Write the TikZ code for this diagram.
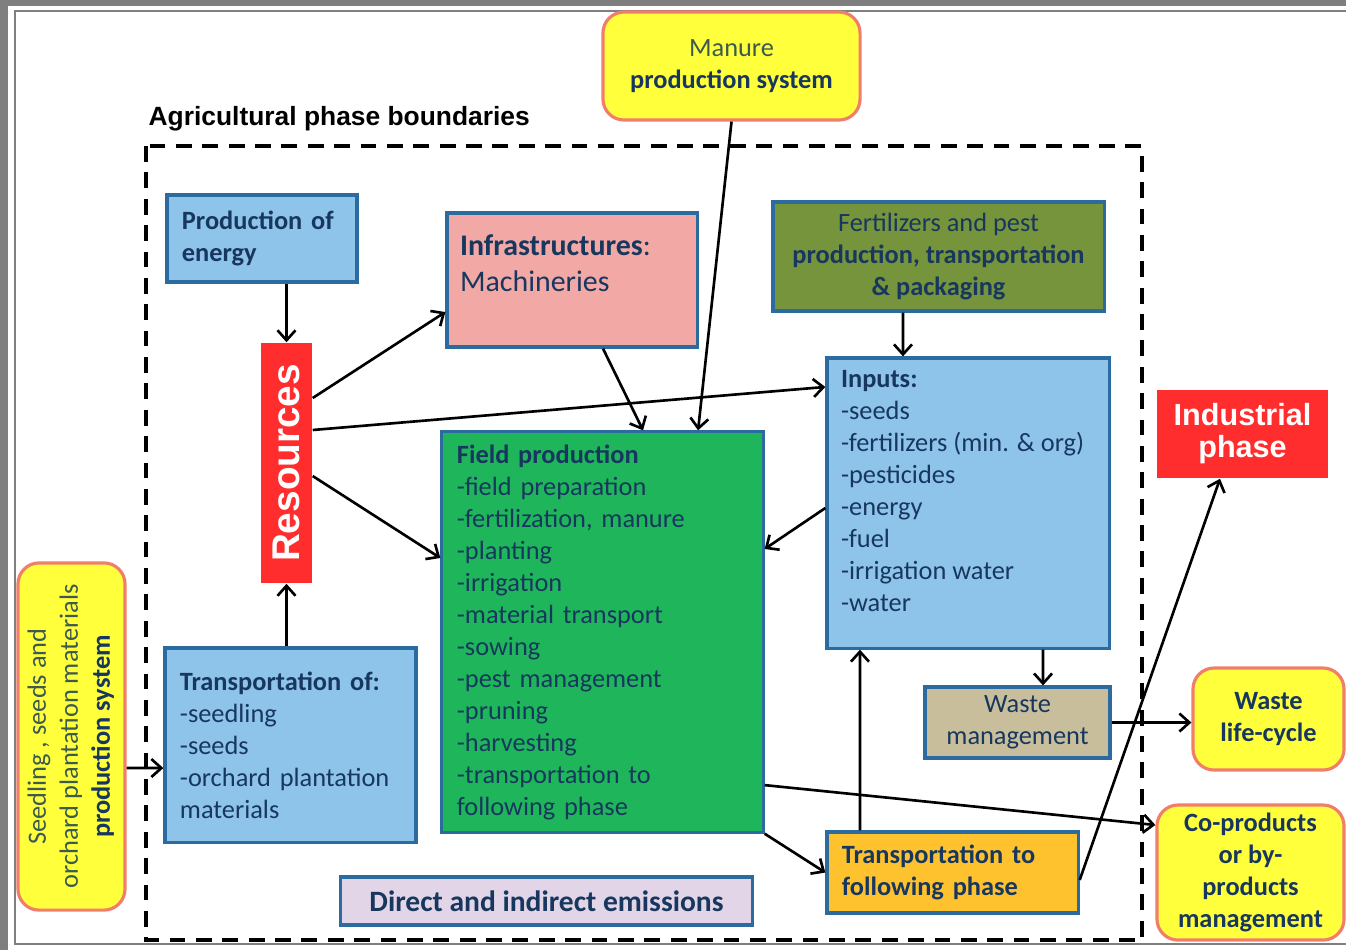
\documentclass[tikz,border=0pt]{standalone}
\usepackage{fontspec}
\setmainfont{Carlito}
\newfontfamily\arialfont{Liberation Sans}
\usetikzlibrary{arrows.meta}

\definecolor{navytext}{HTML}{17375E}
\definecolor{softtext}{HTML}{3C5A4E}
\definecolor{boxblue}{HTML}{2C6BA0}
\definecolor{skyblue}{HTML}{8EC3EA}
\definecolor{blush}{HTML}{F2A9A6}
\definecolor{olivebox}{HTML}{76943B}
\definecolor{fieldgreen}{HTML}{1FB65B}
\definecolor{alertred}{HTML}{FF2D2D}
\definecolor{sunyellow}{HTML}{FFFF3C}
\definecolor{salmon}{HTML}{F07E6A}
\definecolor{tanbox}{HTML}{C9BE9C}
\definecolor{amber}{HTML}{FFC22F}
\definecolor{lavender}{HTML}{E3D5E8}
\definecolor{framegray}{HTML}{7F7F7F}

\begin{document}
\begin{tikzpicture}[x=0.01cm, y=-0.01cm,
    box/.style={draw=boxblue, line width=0.9pt, text=navytext, inner sep=0pt,
        font=\fontsize{7.5}{9.1}\selectfont},
    listbox/.style={box, align=left, inner xsep=0.15cm},
    ybox/.style={box, fill=sunyellow, draw=salmon, rounded corners=6pt, align=center},
    redbox/.style={fill=alertred, text=white, inner sep=0pt,
        font=\arialfont\bfseries\fontsize{8.7}{9.1}\selectfont},
    boxtext/.style={anchor=north west, inner sep=0pt, align=left, text=navytext},
    arr/.style={-{Straight Barb[length=1mm,width=1.8mm]}, line width=0.75pt}]
    \useasboundingbox (0,0) rectangle (1346,950);
    \fill[framegray] (0,0) rectangle (1346,950);
    \fill[white] (8,6) rectangle (1346,950);
    \draw[framegray, line width=0.6pt] (1346,11) -- (15,11) -- (15,944) -- (1346,944);

    \node[font=\arialfont\bfseries\fontsize{7.5}{9}\selectfont, anchor=west, inner sep=0pt] (title) at (148,119) {Agricultural phase boundaries};
    \draw[line width=1.1pt, dash pattern=on 4.5pt off 3pt] (146,146) rectangle (1142,940);

    \node[ybox, minimum width=2.57cm, minimum height=1.08cm] (manure) at (731.5,66) {\textcolor{softtext}{Manure}\\\textbf{production system}};
    \node[listbox, fill=skyblue, minimum width=1.9cm, minimum height=0.87cm, text width=1.6cm] (energy) at (262,238.5) {\textbf{Production of}\\\textbf{energy}};
    \node[box, fill=blush, minimum width=2.5cm, minimum height=1.34cm] (infra) at (572,280) {};
    \node[boxtext, font=\fontsize{8.5}{10.2}\selectfont] (infratext) at ([xshift=0.14cm, yshift=-0.23cm]infra.north west) {\textbf{Infrastructures}:\\Machineries};
    \node[box, fill=olivebox, minimum width=3.31cm, minimum height=1.09cm, align=center] (fert) at (938.5,256.5) {Fertilizers and pest\\\textbf{production, transportation}\\\textbf{\& packaging}};
    \node[redbox, minimum width=0.51cm, minimum height=2.4cm, font=\arialfont\bfseries\fontsize{11}{13}\selectfont] (res) at (286.5,463) {\rotatebox{90}{Resources}};
    \node[box, fill=skyblue, minimum width=2.82cm, minimum height=2.9cm] (inputs) at (968,503) {};
    \node[boxtext, font=\fontsize{7.5}{9.1}\selectfont] (inputstext) at ([xshift=0.15cm, yshift=-0.13cm]inputs.north west) {\textbf{Inputs:}\\-seeds\\-fertilizers (min. \& org)\\-pesticides\\-energy\\-fuel\\-irrigation water\\-water};
    \node[listbox, fill=fieldgreen, minimum width=3.21cm, minimum height=4cm, text width=2.91cm] (field) at (602.5,632) {\textbf{Field production}\\-field preparation\\-fertilization, manure\\-planting\\-irrigation\\-material transport\\-sowing\\-pest management\\-pruning\\-harvesting\\-transportation to\\following phase};
    \node[redbox, minimum width=1.71cm, minimum height=0.88cm, align=center] (indus) at (1242.5,434) {Industrial\\phase};
    \node[listbox, fill=skyblue, minimum width=2.51cm, minimum height=1.94cm, text width=2.21cm] (transof) at (290.5,745) {\textbf{Transportation of:}\\-seedling\\-seeds\\-orchard plantation\\materials};
    \node[ybox, minimum width=1.07cm, minimum height=3.47cm] (seed) at (71.5,736.5) {\rotatebox{90}{\begin{tabular}{@{}c@{}}\textcolor{softtext}{Seedling , seeds and}\\\textcolor{softtext}{orchard plantation materials}\\\textbf{production system}\end{tabular}}};
    \node[box, fill=tanbox, minimum width=1.85cm, minimum height=0.71cm, align=center] (waste) at (1017.5,722.5) {Waste\\management};
    \node[ybox, minimum width=1.51cm, minimum height=1.02cm] (wlife) at (1268.5,719) {\textbf{Waste}\\\textbf{life-cycle}};
    \node[ybox, minimum width=1.87cm, minimum height=1.35cm] (coprod) at (1250.5,872.5) {\textbf{Co-products}\\\textbf{or by-}\\\textbf{products}\\\textbf{management}};
    \node[listbox, fill=amber, minimum width=2.51cm, minimum height=0.81cm, text width=2.21cm] (transto) at (952.5,872.5) {\textbf{Transportation to}\\\textbf{following phase}};
    \node[box, fill=lavender, minimum width=4.11cm, minimum height=0.48cm, font=\fontsize{8.4}{10}\selectfont\bfseries] (emis) at (546.5,901) {Direct and indirect emissions};

    \draw[arr] (energy.south -| res.north) -- (res.north);
    \draw[arr] (transof.north -| res.south) -- (res.south);
    \draw[arr] ([yshift=0.65cm]res.east) -- ([yshift=-0.32cm]infra.west);
    \draw[arr] ([yshift=0.33cm]res.east) -- ([yshift=1.16cm]inputs.west);
    \draw[arr] ([yshift=-0.13cm]res.east) -- ([yshift=0.74cm]field.west);
    \draw[arr] ([xshift=0.31cm]infra.south) -- ([xshift=0.405cm]field.north);
    \draw[arr] (manure.south) -- ([xshift=0.955cm]field.north);
    \draw[arr] ([xshift=-0.355cm]fert.south) -- ([xshift=-0.65cm]inputs.north);
    \draw[arr] ([yshift=-0.05cm]inputs.west) -- ([yshift=0.83cm]field.east);
    \draw[arr] ([xshift=0.75cm]inputs.south) -- ([xshift=0.255cm]waste.north);
    \draw[arr] (waste.east) -- (waste.east -| wlife.west);
    \draw[arr] ([yshift=-1.53cm]field.east) -- ([yshift=0.475cm]coprod.west);
    \draw[arr] (field.south east) -- (transto.west);
    \draw[arr] ([xshift=-0.925cm]transto.north) -- ([xshift=-1.08cm]inputs.south);
    \draw[arr] ([yshift=-0.075cm]transto.east) -- ([xshift=-0.225cm]indus.south);
    \draw[arr] ([yshift=-0.315cm]seed.east) -- ([yshift=-0.23cm]transof.west);
\end{tikzpicture}
\end{document}
